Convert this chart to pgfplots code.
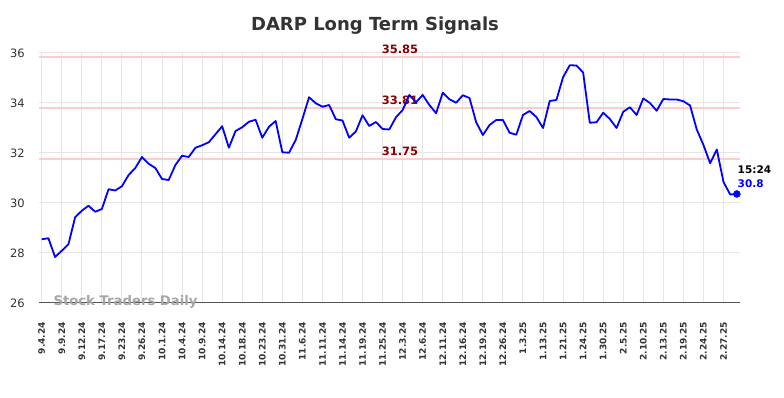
\documentclass[border=0pt]{standalone}
\usepackage{pgfplots}
\pgfplotsset{compat=1.18}
\usepackage{fontspec}
\setmainfont{DejaVu Sans}
\definecolor{titlegray}{HTML}{333333}
\definecolor{gridgray}{HTML}{E6E6E6}
\definecolor{siglinecol}{HTML}{FFCCCC}
\definecolor{sigtext}{HTML}{8B0000}
\definecolor{wmgray}{HTML}{A6A6A6}
\definecolor{axisgray}{HTML}{555555}
\begin{document}
\begin{tikzpicture}
\useasboundingbox (-39.3pt,-95pt) rectangle (744.7pt,303pt);
\begin{axis}[
 at={(0,0)}, anchor=south west,
 scale only axis, width=700.7pt, height=250pt,
 xmin=-0.36, xmax=104.47, ymin=26, ymax=36,
 xtick={0,3,...,102},
 xticklabels={9.4.24,9.9.24,9.12.24,9.17.24,9.23.24,9.26.24,10.1.24,10.4.24,10.9.24,10.14.24,10.18.24,10.23.24,10.31.24,11.6.24,11.11.24,11.14.24,11.19.24,11.25.24,12.3.24,12.6.24,12.11.24,12.16.24,12.19.24,12.26.24,1.3.25,1.13.25,1.21.25,1.24.25,1.30.25,2.5.25,2.10.25,2.13.25,2.19.25,2.24.25,2.27.25},
 ytick={26,28,...,36},
 grid=major, major grid style={gridgray, line width=1pt},
 axis line style={draw=none},
 tick style={draw=none},
 clip=false,
 /pgf/number format/assume math mode=true,
 xticklabel style={rotate=90, anchor=east, inner sep=0pt, font=\bfseries\fontsize{9}{9}\selectfont, text=titlegray},
 xticklabel shift=19pt,
 yticklabel style={anchor=east, inner sep=0pt, font=\fontsize{11.5}{11.5}\selectfont, text=titlegray},
 yticklabel shift=14.3pt,
]
% signal lines
\addplot[siglinecol, line width=2pt] coordinates {(-0.36,35.85) (104.47,35.85)};
\addplot[siglinecol, line width=2pt] coordinates {(-0.36,33.81) (104.47,33.81)};
\addplot[siglinecol, line width=2pt] coordinates {(-0.36,31.75) (104.47,31.75)};
\node[text=sigtext, font=\bfseries\fontsize{11.5}{11.5}\selectfont, inner sep=0pt] at (axis cs:53.6,36.15) {35.85};
\node[text=sigtext, font=\bfseries\fontsize{11.5}{11.5}\selectfont, inner sep=0pt] at (axis cs:53.6,34.11) {33.81};
\node[text=sigtext, font=\bfseries\fontsize{11.5}{11.5}\selectfont, inner sep=0pt] at (axis cs:53.6,32.05) {31.75};
% axis line
\draw[axisgray, line width=1pt] (rel axis cs:0,0) -- (rel axis cs:1,0);
% watermark
\node[text=wmgray, font=\bfseries\fontsize{13.2}{13.2}\selectfont, anchor=west, inner sep=0pt] at (axis cs:1.74,26.04) {Stock Traders Daily};
% price line
\addplot[blue, line width=1.8pt, line join=round] coordinates {
(0,28.55) (1,28.59) (2,27.84) (3,28.09) (4,28.35) (5,29.43) (6,29.69) (7,29.89) (8,29.65) (9,29.76)
(10,30.55) (11,30.50) (12,30.67) (13,31.12) (14,31.40) (15,31.84) (16,31.57) (17,31.40) (18,30.96) (19,30.92)
(20,31.52) (21,31.89) (22,31.84) (23,32.21) (24,32.31) (25,32.43) (26,32.75) (27,33.07) (28,32.21) (29,32.88)
(30,33.03) (31,33.25) (32,33.33) (33,32.61) (34,33.05) (35,33.28) (36,32.03) (37,32.01) (38,32.52) (39,33.36)
(40,34.23) (41,33.99) (42,33.85) (43,33.92) (44,33.35) (45,33.30) (46,32.61) (47,32.86) (48,33.51) (49,33.08)
(50,33.24) (51,32.96) (52,32.94) (53,33.43) (54,33.72) (55,34.32) (56,34.03) (57,34.32) (58,33.92) (59,33.59)
(60,34.41) (61,34.15) (62,34.01) (63,34.31) (64,34.20) (65,33.23) (66,32.72) (67,33.12) (68,33.32) (69,33.32)
(70,32.81) (71,32.73) (72,33.52) (73,33.68) (74,33.44) (75,33.00) (76,34.08) (77,34.12) (78,35.03) (79,35.51)
(80,35.50) (81,35.22) (82,33.21) (83,33.23) (84,33.61) (85,33.36) (86,33.00) (87,33.65) (88,33.83) (89,33.52)
(90,34.18) (91,34.00) (92,33.69) (93,34.16) (94,34.14) (95,34.14) (96,34.07) (97,33.90) (98,32.94) (99,32.32)
(100,31.59) (101,32.14) (102,30.84) (103,30.34) (104,30.36)
};
\addplot[only marks, blue, mark=*, mark size=3.5pt] coordinates {(104,30.36)};
\node[text=black, font=\bfseries\fontsize{10.5}{10.5}\selectfont, anchor=west, inner sep=0pt] at (axis cs:104.1,31.32) {15:24};
\node[text=blue, font=\bfseries\fontsize{10.5}{10.5}\selectfont, anchor=west, inner sep=0pt] at (axis cs:104.1,30.76) {30.8};
\end{axis}
\node[font=\bfseries\fontsize{18}{18}\selectfont, text=titlegray] at (335.7pt,277.3pt) {DARP Long Term Signals};
\end{tikzpicture}
\end{document}
